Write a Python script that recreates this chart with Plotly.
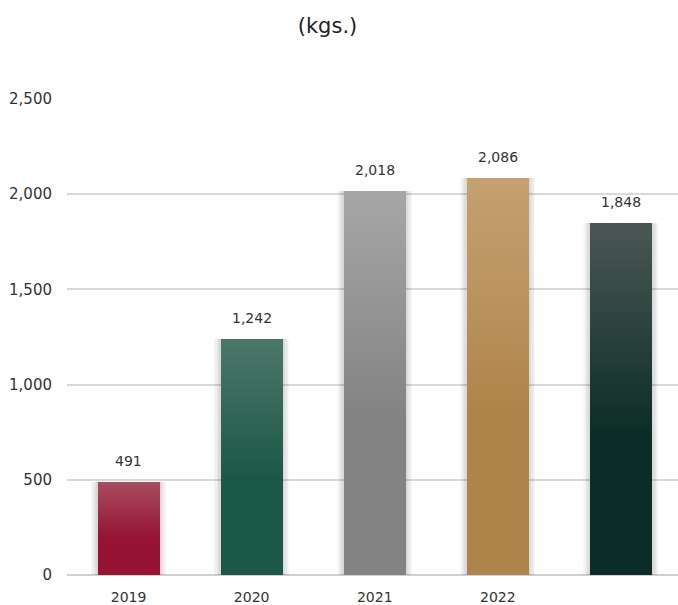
import plotly.graph_objects as go

# Annual volumes (kgs.)
categories = ["2019", "2020", "2021", "2022", ""]
values = [491, 1242, 2018, 2086, 1848]
# gradient colours per bar: (top colour, bottom colour)
top_colors = ["#A84C60", "#4C7769", "#A6A6A6", "#C5A170", "#4B5754"]
bottom_colors = ["#961334", "#1B5847", "#838383", "#AF844A", "#0C2D27"]
y_ticks = [0, 500, 1000, 1500, 2000, 2500]

FONT = "DejaVu Sans"
N_STEPS = 60
BAR_W = 0.504
PX = 1 / 123.1  # one pixel in category units


def hex_rgb(h):
    h = h.lstrip("#")
    return tuple(int(h[i:i + 2], 16) for i in (0, 2, 4))


def blend(c0, c1, t):
    a, b = hex_rgb(c0), hex_rgb(c1)
    return "rgb(%d,%d,%d)" % tuple(round(a[i] + (b[i] - a[i]) * t) for i in range(3))


def shade(i, t):
    # t = 0 at bar top, 1 at bar bottom; gradient settles by 60% of the height
    return blend(top_colors[i], bottom_colors[i], min(1.0, t / 0.6))


xpos = list(range(len(categories)))
fig = go.Figure()

# soft drop shadow behind each bar
for j in range(1, 6):
    fig.add_trace(go.Bar(
        x=xpos, y=values, base=[0] * len(values),
        width=BAR_W + 2 * j * 1.3 * PX,
        marker=dict(color="rgba(0,0,0,0.03)", line=dict(width=0)),
        hoverinfo="skip", showlegend=False,
    ))

# vertical gradient built from overlapping slices, bottom to top
for k in range(N_STEPS):
    frac = k / N_STEPS
    t = 1 - (k + 0.5) / N_STEPS
    fig.add_trace(go.Bar(
        x=xpos,
        y=[v * (1 - frac) for v in values],
        base=[v * frac for v in values],
        width=BAR_W,
        marker=dict(color=[shade(i, t) for i in range(len(values))], line=dict(width=0)),
        hoverinfo="skip", showlegend=False,
    ))

for i, v in enumerate(values):
    fig.add_annotation(
        x=xpos[i], y=v, text=f"{v:,}", showarrow=False,
        yshift=21, yanchor="middle",
        font=dict(family=FONT, size=14, color="#333333"),
    )

fig.update_layout(
    width=678, height=605,
    margin=dict(l=67, r=0, t=99, b=27),
    paper_bgcolor="white", plot_bgcolor="white",
    barmode="overlay", bargap=0,
    showlegend=False,
    title=dict(
        text="(kgs.)", x=327.5 / 678, xanchor="center",
        y=1 - 26 / 605, yanchor="middle", xref="container",
        font=dict(family=FONT, size=21, color="#222222"),
    ),
    xaxis=dict(
        range=[-0.5, -0.5 + 611 / 123.1],
        tickvals=xpos, ticktext=categories,
        showgrid=False, zeroline=False, showline=False,
        ticks="", ticklabelstandoff=12,
        tickfont=dict(family=FONT, size=14, color="#333333"),
        fixedrange=True,
    ),
    yaxis=dict(
        range=[0, 2500], tickvals=y_ticks,
        tickformat=",d",
        showgrid=True, gridcolor="#D9D9D9", gridwidth=2,
        zeroline=True, zerolinecolor="#D0D0D0", zerolinewidth=2,
        showline=False,
        ticks="", ticklabelstandoff=14,
        tickfont=dict(family=FONT, size=15, color="#333333"),
        fixedrange=True,
    ),
)

fig.write_html("out.html")
